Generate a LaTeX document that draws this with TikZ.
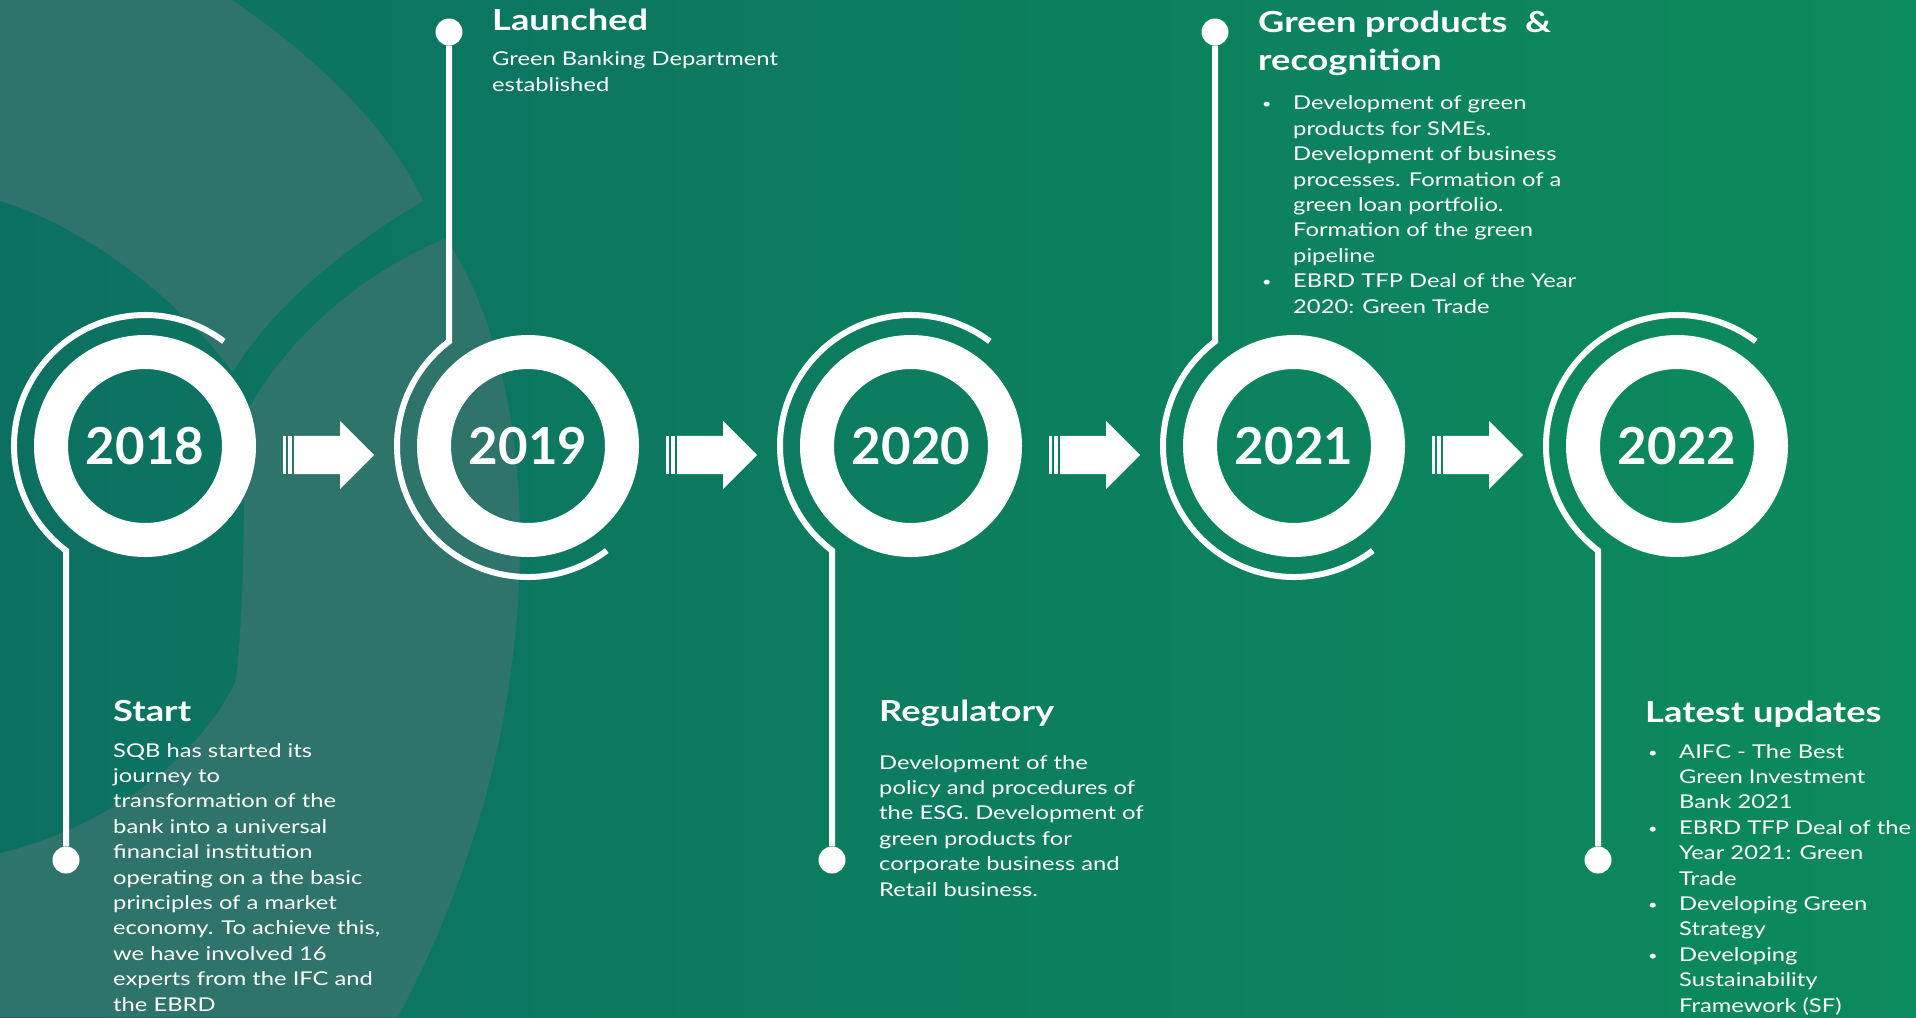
\documentclass[tikz,border=0pt]{standalone}
\usepackage{fontspec}
\setmainfont{Lato}[FakeStretch=1.25]
\newfontfamily\yearfont{Lato}
\usepackage{tikz}
\usetikzlibrary{shapes.arrows}
\definecolor{tealleft}{HTML}{0C7061}
\definecolor{greenright}{HTML}{0C8B5C}
\definecolor{leaf}{HTML}{2E746A}
\tikzstyle{year}=[circle, draw=white, line width=34pt, minimum size=188pt,
                  inner sep=0pt, text=white,
                  font=\yearfont\fontsize{51}{51}\selectfont\bfseries]
\tikzstyle{dot}=[circle, fill=white, minimum size=27pt, inner sep=0pt]
\tikzstyle{stem}=[draw=white, line width=6pt]
\tikzstyle{fatarrow}=[single arrow, fill=white, inner xsep=0pt, inner ysep=19pt,
                      minimum height=80pt, single arrow head extend=15pt,
                      single arrow head indent=0pt, anchor=tail]
\tikzstyle{head}=[anchor=base west, inner sep=0pt, text=white, align=left,
                  font=\fontsize{29}{38}\selectfont\bfseries]
\tikzstyle{body}=[anchor=base west, inner sep=0pt, text=white, align=left,
                  font=\fontsize{19}{25.4}\selectfont]
\newcommand{\bitem}{\makebox[31pt][l]{\raisebox{1pt}{\fontsize{13}{13}\selectfont\textbullet}}}
\newcommand{\bcont}{\hspace*{31pt}}

\begin{document}
\begin{tikzpicture}[x=1pt, y=1pt]
    \useasboundingbox (0,0) rectangle (1916,-1017);
    % background
    \shade[left color=tealleft, right color=greenright] (0,0) rectangle (1916,-1017);
    \fill[leaf] (0,0) -- (232,0) .. controls (320,-60) and (390,-130) .. (423,-201)
        .. controls (340,-250) and (270,-310) .. (233,-372)
        .. controls (170,-290) and (80,-225) .. (0,-201) -- cycle;
    \fill[leaf] (446,-238) .. controls (500,-320) and (528,-450) .. (518,-600)
        .. controls (508,-760) and (460,-900) .. (398,-1017) -- (0,-1017) -- (0,-853)
        .. controls (100,-830) and (200,-760) .. (236,-680)
        .. controls (245,-600) and (245,-480) .. (242,-420)
        .. controls (290,-330) and (370,-270) .. (446,-238) -- cycle;

    % years
    \node [year] at (145,-446)  (y2018) {2018};
    \node [year] at (528,-446)  (y2019) {2019};
    \node [year] at (911,-446)  (y2020) {2020};
    \node [year] at (1294,-446) (y2021) {2021};
    \node [year] at (1677,-446) (y2022) {2022};

    % arrows
    \node [fatarrow] at (294,-455)  (a1) {};
    \node [fatarrow] at (677,-455)  (a2) {};
    \node [fatarrow] at (1060,-455) (a3) {};
    \node [fatarrow] at (1443,-455) (a4) {};
    \foreach \a in {a1,a2,a3,a4} {
        \fill[white] ([xshift=-11pt,yshift=-19pt]\a.tail) rectangle ([xshift=-8pt,yshift=19pt]\a.tail);
        \fill[white] ([xshift=-6pt,yshift=-19pt]\a.tail) rectangle ([xshift=-2pt,yshift=19pt]\a.tail);
    }

    % dots and stems
    \node [dot] at (66,-860)   (d2018) {};
    \node [dot] at (449,-32)   (d2019) {};
    \node [dot] at (832,-860)  (d2020) {};
    \node [dot] at (1215,-32)  (d2021) {};
    \node [dot] at (1598,-860) (d2022) {};
    \coordinate (k2018) at ([shift={(233:131)}]y2018.center);
    \coordinate (k2019) at ([shift={(127:131)}]y2019.center);
    \coordinate (k2020) at ([shift={(233:131)}]y2020.center);
    \coordinate (k2021) at ([shift={(127:131)}]y2021.center);
    \coordinate (k2022) at ([shift={(233:131)}]y2022.center);
    \path [stem] (d2018) -- (k2018) arc[start angle=233, end angle=53, radius=131];
    \path [stem] (d2019) -- (k2019) arc[start angle=127, end angle=307, radius=131];
    \path [stem] (d2020) -- (k2020) arc[start angle=233, end angle=53, radius=131];
    \path [stem] (d2021) -- (k2021) arc[start angle=127, end angle=307, radius=131];
    \path [stem] (d2022) -- (k2022) arc[start angle=233, end angle=53, radius=131];

    % texts (multi-line nodes sit on their last baseline)
    \node [head] at (113,-721) (t2018) {Start};
    \node [body] at (113,-1011) (b2018) {SQB has started its\\journey to\\transformation of the\\bank into a universal\\financial institution\\operating on a the basic\\principles of a market\\economy. To achieve this,\\we have involved 16\\experts from the IFC and\\the EBRD};
    \node [head] at (492,-30) (t2019) {Launched};
    \node [body] at (492,-91) (b2019) {Green Banking Department\\established};
    \node [head] at (879,-721) (t2020) {Regulatory};
    \node [body] at (879,-896) (b2020) {Development of the\\policy and procedures of\\the ESG. Development of\\green products for\\corporate business and\\Retail business.};
    \node [head] at (1258,-70) (t2021) {Green products\ \ \&\\recognition};
    \node [body] at (1262,-313) (b2021) {\bitem Development of green\\\bcont products for SMEs.\\\bcont Development of business\\\bcont processes. Formation of a\\\bcont green loan portfolio.\\\bcont Formation of the green\\\bcont pipeline\\\bitem EBRD TFP Deal of the Year\\\bcont 2020: Green Trade};
    \node [head] at (1645,-722) (t2022) {Latest updates};
    \node [body] at (1648,-1012) (b2022) {\bitem AIFC - The Best\\\bcont Green Investment\\\bcont Bank 2021\\\bitem EBRD TFP Deal of the\\\bcont Year 2021: Green\\\bcont Trade\\\bitem Developing Green\\\bcont Strategy\\\bitem Developing\\\bcont Sustainability\\\bcont Framework (SF)};
\end{tikzpicture}
\end{document}
